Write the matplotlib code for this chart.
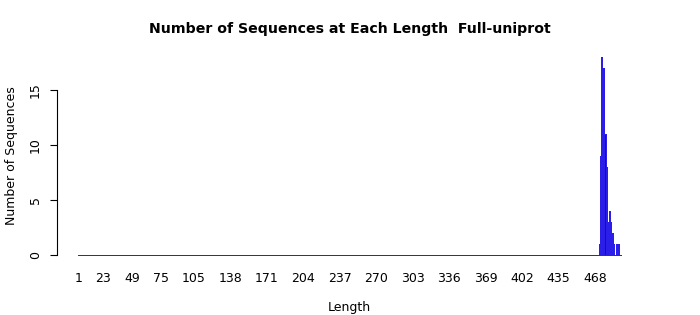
import numpy as np
import matplotlib
matplotlib.use("Agg")
import matplotlib.pyplot as plt

# Data: sequence lengths 1..491 and counts (non-zero only near the end)
lengths = list(range(1, 492))
nonzero_lengths = [472, 473, 474, 475, 476, 477, 478, 479, 480, 481, 482, 483, 484, 485, 487, 489]
nonzero_counts  = [1,   9,   18,  13,  17,  11,  8,   3,   1,   4,   3,   2,   2,   1,   1,   1]
counts = [0] * len(lengths)
for L, c in zip(nonzero_lengths, nonzero_counts):
    counts[lengths.index(L)] = c

xtick_labels = [1, 23, 49, 75, 105, 138, 171, 204, 237, 270, 303, 336, 369, 402, 435, 468]
ytick_values = [0, 5, 10, 15]

fig = plt.figure(figsize=(7.0, 3.15), dpi=100)
ax = fig.add_axes([57/700, 1 - 263/315, (642 - 57)/700, (263 - 49)/315])

ax.bar(lengths, counts, width=0.95, color="#2200dd", edgecolor="#2a1ee8",
       linewidth=0.45, antialiased=False)

ax.set_xlim(-18.9, 510.5)
ax.set_ylim(-0.72, 18.72)

for s in ["top", "right", "bottom"]:
    ax.spines[s].set_visible(False)
ax.spines["left"].set_bounds(0, 15)
ax.spines["left"].set_linewidth(0.8)

ax.set_yticks(ytick_values)
ax.set_yticklabels([str(v) for v in ytick_values], rotation=90, va="center", fontsize=9)
ax.tick_params(axis="y", length=5, width=0.8, pad=6)

ax.set_xticks(xtick_labels)
ax.set_xticklabels([str(v) for v in xtick_labels], fontsize=9)
ax.tick_params(axis="x", length=0, pad=6.5)

ax.set_xlabel("Length", fontsize=9, labelpad=11.5)
ax.set_ylabel("Number of Sequences", fontsize=9, labelpad=8)
fig.text(0.5, 1 - 29/315, "Number of Sequences at Each Length  Full-uniprot",
         ha="center", va="center", fontsize=10.2, fontweight="bold")

fig.savefig("out.png", dpi=100)
